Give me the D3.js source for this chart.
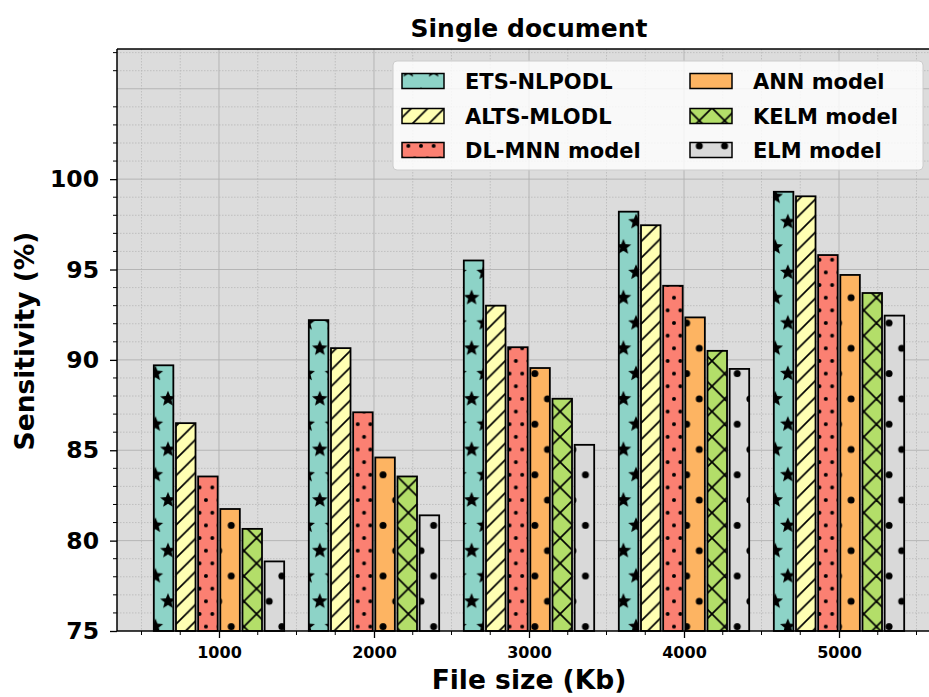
<!DOCTYPE html>
<html>
<head>
<meta charset="utf-8">
<script src="https://cdn.jsdelivr.net/npm/d3@7"></script>
<style>
  body { margin: 0; background: #fff; }
  svg { display: block; font-family: "DejaVu Sans", sans-serif; }
</style>
</head>
<body>
<svg id="chart" width="929" height="697"></svg>
<script>
// ---------- data ----------
const categories = [1000, 2000, 3000, 4000, 5000];
const seriesNames = ["ETS-NLPODL", "ALTS-MLODL", "DL-MNN model", "ANN model", "KELM model", "ELM model"];
const etsValues  = [89.7, 92.2, 95.5, 98.2, 99.3];
const altsValues = [86.5, 90.65, 93.0, 97.45, 99.05];
const dlValues   = [83.55, 87.1, 90.7, 94.1, 95.8];
const annValues  = [81.75, 84.6, 89.55, 92.35, 94.7];
const kelmValues = [80.65, 83.55, 87.85, 90.5, 93.7];
const elmValues  = [78.85, 81.4, 85.3, 89.5, 92.45];
const yTickValues = [75, 80, 85, 90, 95, 100];
const xTickValues = [1000, 2000, 3000, 4000, 5000];
const titleText = "Single document";
const xLabelText = "File size (Kb)";
const yLabelText = "Sensitivity (%)";

const seriesValues = [etsValues, altsValues, dlValues, annValues, kelmValues, elmValues];

// ---------- styles ----------
const colors = ["#8dd3c7", "#ffffb3", "#fb8072", "#fdb462", "#b3de69", "#d9d9d9"];
const hatchKinds = ["stars", "slash", "smalldots", "bigdots", "cross", "bigdots"];

const svg = d3.select("#chart");
const plot = { left: 117, right: 941, top: 49, bottom: 631 };

const x = d3.scaleLinear().domain([342, 5658]).range([plot.left, plot.right]);
const y = d3.scaleLinear().domain([75, 107.2]).range([plot.bottom, plot.top]);

const slot = 143;      // data units between adjacent bars of a group
const barW = 126;      // data units of a bar width

// ---------- patterns ----------
const defs = svg.append("defs");
const anchorX = 699.3, anchorY = 348.3;  // global hatch lattice anchor
const cell = 25.3;

function starPath(cx, cy, R, r) {
  const pts = [];
  for (let i = 0; i < 10; i++) {
    const a = -Math.PI / 2 + i * Math.PI / 5;
    const rad = i % 2 === 0 ? R : r;
    pts.push([cx + rad * Math.cos(a), cy + rad * Math.sin(a)]);
  }
  return "M" + pts.map(p => p[0].toFixed(2) + "," + p[1].toFixed(2)).join("L") + "Z";
}

seriesNames.forEach((name, i) => {
  const kind = hatchKinds[i];
  let pw, ph;
  if (kind === "stars" || kind === "bigdots") { pw = cell; ph = 2 * cell; }
  else if (kind === "smalldots") { pw = cell / 2; ph = cell; }
  else if (kind === "slash") { pw = 16.5; ph = 16.5; }
  else { pw = cell; ph = cell; }
  const pat = defs.append("pattern")
    .attr("id", "pat" + i)
    .attr("patternUnits", "userSpaceOnUse")
    .attr("width", pw).attr("height", ph)
    .attr("x", ((anchorX % pw) + pw) % pw)
    .attr("y", ((anchorY % ph) + ph) % ph);
  pat.append("rect").attr("width", pw).attr("height", ph).attr("fill", colors[i]);
  const lattice = [[0, 0], [pw, 0], [0, ph], [pw, ph], [pw / 2, ph / 2]];
  if (kind === "stars") {
    lattice.forEach(([cx, cy]) => pat.append("path").attr("d", starPath(cx, cy, 8.2, 3.6)).attr("fill", "#000"));
  } else if (kind === "bigdots") {
    lattice.forEach(([cx, cy]) => pat.append("circle").attr("cx", cx).attr("cy", cy).attr("r", 3.5).attr("fill", "#000"));
  } else if (kind === "smalldots") {
    lattice.forEach(([cx, cy]) => pat.append("circle").attr("cx", cx).attr("cy", cy).attr("r", 2).attr("fill", "#000"));
  } else if (kind === "slash") {
    [[-pw, ph * 2, pw * 2, -ph], [-pw, ph, pw, -ph], [0, ph * 2, pw * 2, 0]].forEach(([x1, y1, x2, y2]) =>
      pat.append("line").attr("x1", x1).attr("y1", y1).attr("x2", x2).attr("y2", y2)
        .attr("stroke", "#000").attr("stroke-width", 1.7));
  } else if (kind === "cross") {
    [[0, ph, pw, 0], [-pw, ph, pw, -ph], [0, 2 * ph, 2 * pw, 0], [0, 0, pw, ph], [-pw, 0, pw, 2 * ph], [0, -ph, 2 * pw, ph]]
      .forEach(([x1, y1, x2, y2]) =>
        pat.append("line").attr("x1", x1).attr("y1", y1).attr("x2", x2).attr("y2", y2)
          .attr("stroke", "#000").attr("stroke-width", 1.7));
  }
});

// ---------- plot background & grid ----------
svg.append("rect")
  .attr("x", plot.left).attr("y", plot.top)
  .attr("width", plot.right - plot.left).attr("height", plot.bottom - plot.top)
  .attr("fill", "#dcdcdc");

const gridG = svg.append("g");
const yMinor = d3.range(76, 108, 1).filter(v => v % 5 !== 0);
const xMinor = d3.range(500, 5658, 250).filter(v => v % 1000 !== 0);

gridG.selectAll(".ymin").data(yMinor).join("line")
  .attr("x1", plot.left).attr("x2", plot.right)
  .attr("y1", d => y(d)).attr("y2", d => y(d))
  .attr("stroke", "#b8b8b8").attr("stroke-width", 0.8).attr("stroke-dasharray", "1.5,1.5");
gridG.selectAll(".xmin").data(xMinor).join("line")
  .attr("y1", plot.top).attr("y2", plot.bottom)
  .attr("x1", d => x(d)).attr("x2", d => x(d))
  .attr("stroke", "#b8b8b8").attr("stroke-width", 0.8).attr("stroke-dasharray", "1.5,1.5");
gridG.selectAll(".ymaj").data([80, 85, 90, 95, 100, 105]).join("line")
  .attr("x1", plot.left).attr("x2", plot.right)
  .attr("y1", d => y(d)).attr("y2", d => y(d))
  .attr("stroke", "#b0b0b0").attr("stroke-width", 0.9);
gridG.selectAll(".xmaj").data(xTickValues).join("line")
  .attr("y1", plot.top).attr("y2", plot.bottom)
  .attr("x1", d => x(d)).attr("x2", d => x(d))
  .attr("stroke", "#b0b0b0").attr("stroke-width", 0.9);

// ---------- bars ----------
const barsG = svg.append("g");
seriesValues.forEach((vals, i) => {
  barsG.selectAll(".b" + i).data(vals.map((v, j) => ({ v, c: categories[j] }))).join("rect")
    .attr("x", d => x(d.c + (i - 2.5) * slot - barW / 2))
    .attr("width", d => x(d.c + (i - 2.5) * slot + barW / 2) - x(d.c + (i - 2.5) * slot - barW / 2))
    .attr("y", d => y(d.v))
    .attr("height", d => y(75) - y(d.v))
    .attr("fill", "url(#pat" + i + ")")
    .attr("stroke", "#000").attr("stroke-width", 1.8);
});

// ---------- axes ----------
const axG = svg.append("g");
axG.append("line").attr("x1", plot.left).attr("x2", plot.left).attr("y1", plot.top).attr("y2", plot.bottom)
  .attr("stroke", "#000").attr("stroke-width", 1.5);
axG.append("line").attr("x1", plot.left).attr("x2", plot.right).attr("y1", plot.bottom).attr("y2", plot.bottom)
  .attr("stroke", "#000").attr("stroke-width", 1.5);
axG.append("line").attr("x1", plot.left).attr("x2", plot.right).attr("y1", plot.top).attr("y2", plot.top)
  .attr("stroke", "#000").attr("stroke-width", 1.5);

// y axis
const yAxis = d3.axisLeft(y).tickValues(yTickValues).tickSize(7).tickPadding(11).tickFormat(d3.format("d"));
const yG = svg.append("g").attr("transform", `translate(${plot.left},0)`).call(yAxis);
yG.select(".domain").remove();
yG.selectAll(".tick line").attr("stroke-width", 1.3);
yG.selectAll(".tick text").attr("font-size", 23.5).attr("font-weight", "bold").attr("fill", "#000")
  .attr("font-family", "DejaVu Sans");
svg.append("g").selectAll("line").data(yMinor).join("line")
  .attr("x1", plot.left - 4).attr("x2", plot.left)
  .attr("y1", d => y(d)).attr("y2", d => y(d))
  .attr("stroke", "#000").attr("stroke-width", 1);

// x axis
const xAxis = d3.axisBottom(x).tickValues(xTickValues).tickSize(7).tickPadding(9).tickFormat(d3.format("d"));
const xG = svg.append("g").attr("transform", `translate(0,${plot.bottom})`).call(xAxis);
xG.select(".domain").remove();
xG.selectAll(".tick line").attr("stroke-width", 1.3);
xG.selectAll(".tick text").attr("font-size", 16).attr("font-weight", "bold").attr("fill", "#000")
  .attr("font-family", "DejaVu Sans");
svg.append("g").selectAll("line").data(xMinor).join("line")
  .attr("y1", plot.bottom).attr("y2", plot.bottom + 4)
  .attr("x1", d => x(d)).attr("x2", d => x(d))
  .attr("stroke", "#000").attr("stroke-width", 1);

// ---------- titles ----------
svg.append("text").attr("x", (plot.left + plot.right) / 2).attr("y", 37)
  .attr("text-anchor", "middle").attr("font-size", 25).attr("font-weight", "bold").text(titleText);
svg.append("text").attr("x", (plot.left + plot.right) / 2).attr("y", 689)
  .attr("text-anchor", "middle").attr("font-size", 26.5).attr("font-weight", "bold").text(xLabelText);
svg.append("text").attr("transform", "translate(34,341) rotate(-90)")
  .attr("text-anchor", "middle").attr("font-size", 26.5).attr("font-weight", "bold").text(yLabelText);

// ---------- legend ----------
const leg = svg.append("g");
leg.append("rect").attr("x", 393).attr("y", 61).attr("width", 530).attr("height", 109).attr("rx", 4)
  .attr("fill", "#fff").attr("fill-opacity", 0.82).attr("stroke", "#cccccc").attr("stroke-width", 1);
const legRows = [81, 116, 150];
const legCols = [{ px: 402, tx: 465 }, { px: 690, tx: 753 }];
seriesNames.forEach((name, i) => {
  const col = legCols[Math.floor(i / 3)];
  const ry = legRows[i % 3];
  leg.append("rect").attr("x", col.px).attr("y", ry - 7.5).attr("width", 42).attr("height", 15)
    .attr("fill", "url(#pat" + i + ")").attr("stroke", "#000").attr("stroke-width", 1.5);
  leg.append("text").attr("x", col.tx).attr("y", ry).attr("dy", "0.36em")
    .attr("font-size", 21).attr("font-weight", "bold").text(name);
});
</script>
</body>
</html>
